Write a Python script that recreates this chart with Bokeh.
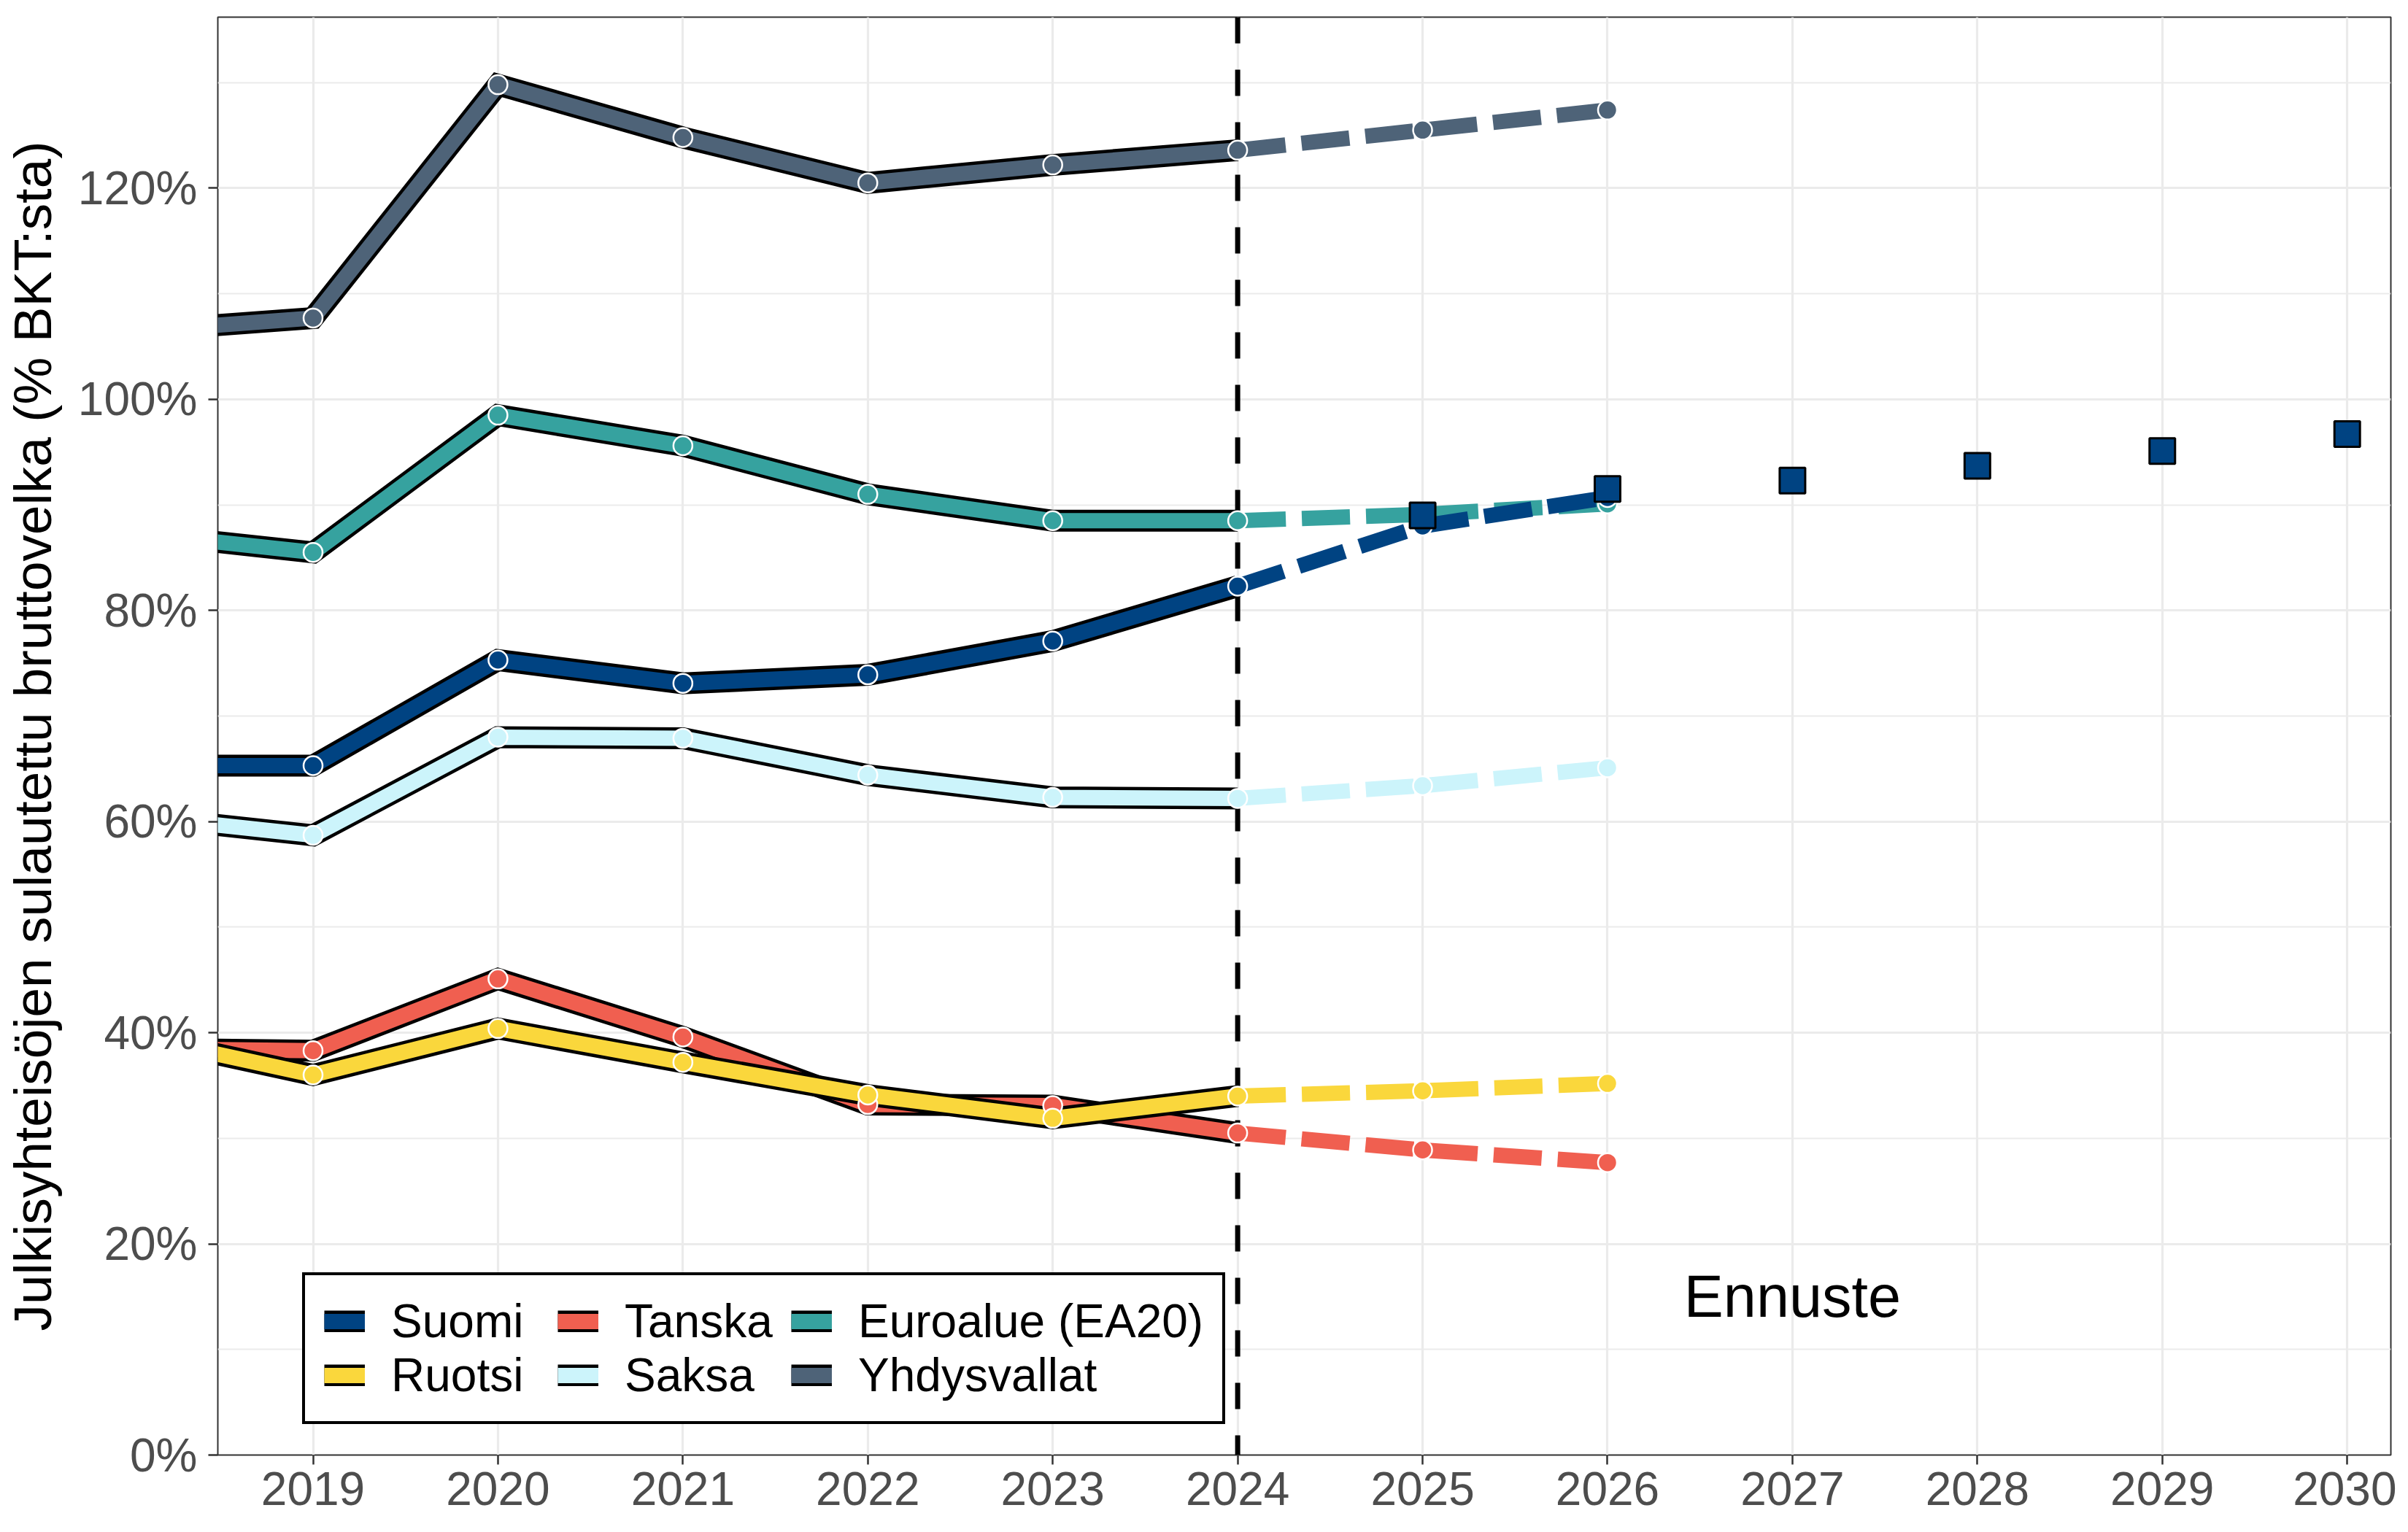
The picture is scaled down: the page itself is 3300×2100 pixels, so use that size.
from bokeh.plotting import figure
from bokeh.models import (Range1d, FixedTicker, PrintfTickFormatter, Span, Label,
                          Legend, LegendItem)
from bokeh.embed import file_html
from bokeh.resources import INLINE

# ---------------- data ----------------
years_hist = [2018, 2019, 2020, 2021, 2022, 2023, 2024]
years_fc = [2024, 2025, 2026]
years_proj = [2025, 2026, 2027, 2028, 2029, 2030]

suomi_hist = [65.3, 65.3, 75.3, 73.1, 73.9, 77.1, 82.3]
suomi_fc = [82.3, 88.0, 90.7]
ruotsi_hist = [39.8, 36.0, 40.4, 37.2, 34.1, 31.9, 34.0]
ruotsi_fc = [34.0, 34.5, 35.2]
tanska_hist = [38.5, 38.3, 45.1, 39.6, 33.2, 33.1, 30.5]
tanska_fc = [30.5, 28.9, 27.7]
saksa_hist = [60.6, 58.7, 68.0, 67.9, 64.4, 62.3, 62.2]
saksa_fc = [62.2, 63.4, 65.1]
euro_hist = [87.4, 85.5, 98.5, 95.6, 91.0, 88.5, 88.5]
euro_fc = [88.5, 89.1, 90.1]
usa_hist = [106.4, 107.7, 129.8, 124.8, 120.5, 122.2, 123.6]
usa_fc = [123.6, 125.5, 127.4]
suomi_proj = [89.0, 91.5, 92.3, 93.7, 95.1, 96.7]

x_ticks = [2019, 2020, 2021, 2022, 2023, 2024, 2025, 2026, 2027, 2028, 2029, 2030]
y_ticks = [0, 20, 40, 60, 80, 100, 120]
y_minor = [10, 30, 50, 70, 90, 110, 130]
forecast_start = 2024
y_title = "Julkisyhteisöjen sulautettu bruttovelka (% BKT:sta)"
note_text = "Ennuste"
note_x, note_y = 2027, 15.0

series = {
    "Suomi": (suomi_hist, suomi_fc),
    "Ruotsi": (ruotsi_hist, ruotsi_fc),
    "Tanska": (tanska_hist, tanska_fc),
    "Saksa": (saksa_hist, saksa_fc),
    "Euroalue (EA20)": (euro_hist, euro_fc),
    "Yhdysvallat": (usa_hist, usa_fc),
}
colors = {
    "Suomi": "#004382",
    "Ruotsi": "#FAD73C",
    "Tanska": "#F05F50",
    "Saksa": "#CCF4FB",
    "Euroalue (EA20)": "#36A29F",
    "Yhdysvallat": "#4E6378",
}
# row-major order for a 2 x 3 legend grid
legend_order = ["Suomi", "Tanska", "Euroalue (EA20)", "Ruotsi", "Saksa", "Yhdysvallat"]
draw_order = ["Tanska", "Ruotsi", "Saksa", "Euroalue (EA20)", "Yhdysvallat", "Suomi"]

FONT = "Liberation Sans"

# ---------------- figure ----------------
p = figure(width=3284, height=2092, output_backend="svg", toolbar_location=None,
           x_range=Range1d(2018.485, 2030.236), y_range=Range1d(0, 136.2),
           min_border_left=296, min_border_right=8, min_border_top=23,
           min_border_bottom=98)
p.background_fill_color = "white"
p.border_fill_color = "white"
p.outline_line_color = "#333333"
p.outline_line_width = 2

xt = FixedTicker(ticks=x_ticks)
yt = FixedTicker(ticks=y_ticks, minor_ticks=y_minor)
p.xaxis.ticker = xt
p.xgrid.ticker = xt
p.yaxis.ticker = yt
p.ygrid.ticker = yt
p.xaxis.formatter = PrintfTickFormatter(format="%d")
p.yaxis.formatter = PrintfTickFormatter(format="%d%%")

for ax in (p.xaxis, p.yaxis):
    ax.axis_line_color = None
    ax.major_tick_line_color = "#333333"
    ax.major_tick_line_width = 2.5
    ax.major_tick_in = 0
    ax.major_tick_out = 13
    ax.minor_tick_line_color = None
    ax.major_label_text_font = FONT
    ax.major_label_text_font_size = "64px"
    ax.major_label_text_color = "#4D4D4D"
p.xaxis.major_label_standoff = 10
p.yaxis.major_label_standoff = 15
p.yaxis.axis_label = y_title
p.yaxis.axis_label_text_font = FONT
p.yaxis.axis_label_text_font_size = "73px"
p.yaxis.axis_label_text_font_style = "normal"
p.yaxis.axis_label_text_color = "black"
p.yaxis.axis_label_standoff = 19

p.xgrid.grid_line_color = "#EBEBEB"
p.xgrid.grid_line_width = 3.2
p.ygrid.grid_line_color = "#EBEBEB"
p.ygrid.grid_line_width = 3.2
p.ygrid.minor_grid_line_color = "#EBEBEB"
p.ygrid.minor_grid_line_width = 1.8

vline = Span(location=forecast_start, dimension="height", line_color="black",
             line_width=7, line_dash="36 36", level="underlay")
p.add_layout(vline)

# ---------------- lines ----------------
black_r, col_r = {}, {}
for name in draw_order:
    hist, fc = series[name]
    black_r[name] = p.line(years_hist, hist, line_color="black", line_width=30,
                           line_join="miter", line_cap="butt")
    col_r[name] = p.line(years_hist, hist, line_color=colors[name], line_width=21,
                         line_join="miter", line_cap="butt")
for name in draw_order:
    hist, fc = series[name]
    p.line(years_fc, fc, line_color=colors[name], line_width=21,
           line_dash="66 22", line_cap="butt", line_join="miter")
for name in draw_order:
    hist, fc = series[name]
    p.scatter(years_hist + years_fc[1:], hist + fc[1:], marker="circle", size=26,
              fill_color=colors[name], line_color="white", line_width=2.5)

p.scatter(years_proj, suomi_proj, marker="square", size=35,
          fill_color=colors["Suomi"], line_color="black", line_width=3)

# ---------------- annotation ----------------
p.add_layout(Label(x=note_x, y=note_y, text=note_text, text_align="center",
                   text_baseline="alphabetic", text_font=FONT,
                   text_font_size="81px", text_color="black"))

# ---------------- legend ----------------
items = [LegendItem(label=n, renderers=[black_r[n], col_r[n]]) for n in legend_order]
legend = Legend(items=items, location=(116, 42), orientation="horizontal", ncols=3,
                border_line_color="black", border_line_width=4, border_line_alpha=1.0,
                background_fill_color="white", background_fill_alpha=1.0,
                label_text_font=FONT, label_text_font_size="64px",
                label_text_color="black", label_width=228,
                glyph_width=56, glyph_height=30, label_standoff=36,
                padding=26, spacing=0, margin=0)
p.add_layout(legend)

open("out.html", "w").write(file_html(p, INLINE))
